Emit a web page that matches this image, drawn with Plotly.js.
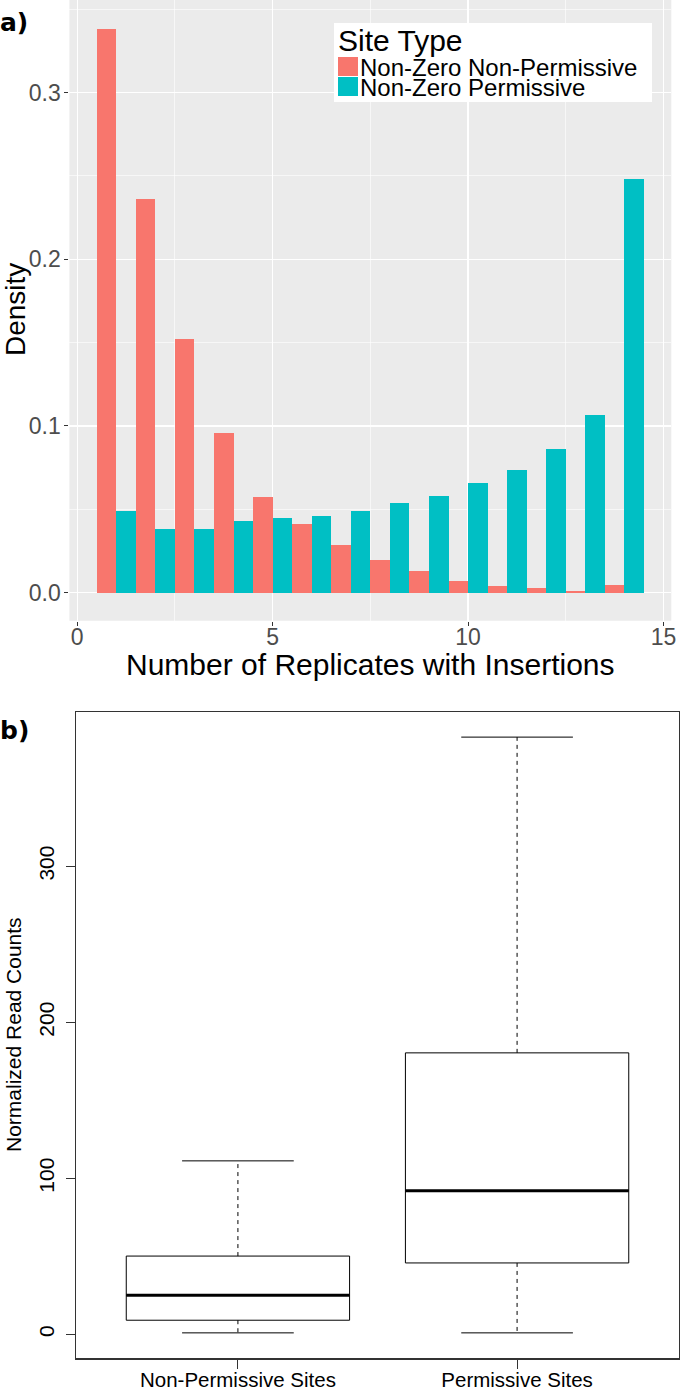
<!DOCTYPE html>
<html>
<head>
<meta charset="utf-8">
<script src="https://cdn.plot.ly/plotly-3.0.1.min.js"></script>
<style>html,body{margin:0;padding:0;background:#fff;}#chart{width:680px;height:1391px;}</style>
</head>
<body>
<div id="chart"></div>
<script>
// ---- Panel a) data: density of replicates with insertions ----
const replicates = [1, 2, 3, 4, 5, 6, 7, 8, 9, 10, 11, 12, 13, 14];
const nonZeroNonPermissive = [0.338, 0.236, 0.152, 0.096, 0.0576, 0.0412, 0.0286, 0.0198, 0.013, 0.0068, 0.004, 0.003, 0.0012, 0.0044];
const nonZeroPermissive = [0.0488, 0.0384, 0.0384, 0.0432, 0.0446, 0.0462, 0.0492, 0.0538, 0.0582, 0.0656, 0.0734, 0.0864, 0.1068, 0.248];
const seriesNames = ['Non-Zero Non-Permissive', 'Non-Zero Permissive'];
const legendTitle = 'Site Type';
const xTicksA = [0, 5, 10, 15];
const yTicksA = [0, 0.1, 0.2, 0.3];

// ---- Panel b) data: boxplot statistics of normalized read counts ----
const siteGroups = ['Non-Permissive Sites', 'Permissive Sites'];
const lowerWhisker = [1, 1];
const q1 = [9.1, 45.8];
const median = [25.1, 92.1];
const q3 = [50.2, 180.4];
const upperWhisker = [111.2, 382.7];
const yTicksB = [0, 100, 200, 300];

const RED = '#F8766D', TEAL = '#00BFC4';
const FONT = 'Liberation Sans, Arial, sans-serif';
const W = 680, H = 1391;
const px = x => x / W;
const py = y => 1 - y / H;

const groupPos = siteGroups.map((_, i) => i + 1);
const boxHalf = 0.4, capHalf = 0.2;

const traces = [
  {type: 'bar', x: replicates, y: nonZeroNonPermissive, name: seriesNames[0], marker: {color: RED, line: {width: 0}}, xaxis: 'x', yaxis: 'y', showlegend: false},
  {type: 'bar', x: replicates, y: nonZeroPermissive, name: seriesNames[1], marker: {color: TEAL, line: {width: 0}}, xaxis: 'x', yaxis: 'y', showlegend: false},
  {type: 'box', x: groupPos, q1: q1, median: median, q3: q3, lowerfence: q1, upperfence: q3,
   width: 2 * boxHalf, whiskerwidth: 0, boxpoints: false, fillcolor: '#ffffff',
   line: {color: '#000000', width: 1}, xaxis: 'x2', yaxis: 'y2', showlegend: false, hoverinfo: 'skip'}
];

// medians (thick), whiskers (dashed), caps
const medX = [], medY = [], whX = [], whY = [], capX = [], capY = [];
groupPos.forEach((p, i) => {
  medX.push(p - boxHalf, p + boxHalf, null); medY.push(median[i], median[i], null);
  whX.push(p, p, null, p, p, null); whY.push(q3[i], upperWhisker[i], null, q1[i], lowerWhisker[i], null);
  capX.push(p - capHalf, p + capHalf, null, p - capHalf, p + capHalf, null);
  capY.push(upperWhisker[i], upperWhisker[i], null, lowerWhisker[i], lowerWhisker[i], null);
});
traces.push({type: 'scatter', mode: 'lines', x: whX, y: whY, line: {color: '#000', width: 1, dash: '4px,4px'}, xaxis: 'x2', yaxis: 'y2', showlegend: false, hoverinfo: 'skip'});
traces.push({type: 'scatter', mode: 'lines', x: capX, y: capY, line: {color: '#000', width: 1}, xaxis: 'x2', yaxis: 'y2', showlegend: false, hoverinfo: 'skip'});
traces.push({type: 'scatter', mode: 'lines', x: medX, y: medY, line: {color: '#000', width: 3}, xaxis: 'x2', yaxis: 'y2', showlegend: false, hoverinfo: 'skip'});

const layout = {
  width: W, height: H,
  margin: {l: 0, r: 0, t: 0, b: 0},
  paper_bgcolor: '#ffffff', plot_bgcolor: 'rgba(0,0,0,0)',
  barmode: 'group', bargap: 0, bargroupgap: 0,
  showlegend: false,
  font: {family: FONT, color: '#000'},
  xaxis: {
    domain: [px(69.4), px(671.3)], anchor: 'y', range: [-0.2, 15.2],
    tickvals: xTicksA, ticks: 'outside', ticklen: 4, tickcolor: '#333333', tickwidth: 1,
    tickfont: {family: FONT, size: 23, color: '#4D4D4D'}, ticklabelstandoff: -8,
    showgrid: true, gridcolor: '#ffffff', gridwidth: 1.3, zeroline: false, showline: false,
    minor: {dtick: 2.5, tick0: 0, showgrid: true, gridcolor: '#ffffff', gridwidth: 0.6, ticks: ''}
  },
  yaxis: {
    domain: [py(620.8), 1], anchor: 'x', range: [-0.0169, 0.3555],
    tickvals: yTicksA, ticktext: yTicksA.map(v => v.toFixed(1)),
    ticks: 'outside', ticklen: 4, tickcolor: '#333333', tickwidth: 1,
    tickfont: {family: FONT, size: 23, color: '#4D4D4D'}, ticklabelstandoff: -1,
    showgrid: true, gridcolor: '#ffffff', gridwidth: 1.3, zeroline: false, showline: false,
    minor: {dtick: 0.05, tick0: 0, showgrid: true, gridcolor: '#ffffff', gridwidth: 0.6, ticks: ''}
  },
  xaxis2: {
    domain: [px(76), px(679)], anchor: 'y2', range: [0.42, 2.58],
    tickvals: groupPos, ticktext: siteGroups, ticks: 'outside', ticklen: 9, tickcolor: '#333', tickwidth: 1,
    tickfont: {family: FONT, size: 20.5, color: '#000'}, ticklabelstandoff: -6,
    showgrid: false, zeroline: false, showline: true, mirror: true, linecolor: '#333', linewidth: 1.2
  },
  yaxis2: {
    domain: [py(1358.3), py(712.3)], anchor: 'x2', range: [-15.3, 398.6],
    tickvals: yTicksB, tickangle: -90, ticks: 'outside', ticklen: 9, tickcolor: '#333', tickwidth: 1,
    tickfont: {family: FONT, size: 21, color: '#000'}, ticklabelstandoff: 3,
    showgrid: false, zeroline: false, showline: true, mirror: true, linecolor: '#333', linewidth: 1.2
  },
  shapes: [
    {type: 'rect', xref: 'x domain', yref: 'y domain', x0: 0, x1: 1, y0: 0, y1: 1, fillcolor: '#EBEBEB', line: {width: 0}, layer: 'below'},
    {type: 'rect', xref: 'paper', yref: 'paper', x0: px(334), x1: px(652), y0: py(102), y1: py(23), fillcolor: '#ffffff', line: {width: 0}, layer: 'above'},
    {type: 'rect', xref: 'paper', yref: 'paper', x0: px(338), x1: px(358), y0: py(76), y1: py(57), fillcolor: RED, line: {width: 0}, layer: 'above'},
    {type: 'rect', xref: 'paper', yref: 'paper', x0: px(338), x1: px(358), y0: py(96), y1: py(77), fillcolor: TEAL, line: {width: 0}, layer: 'above'}
  ],
  annotations: [
    {text: '<b>a)</b>', xref: 'paper', yref: 'paper', x: px(-2), y: py(22), xanchor: 'left', yanchor: 'middle', showarrow: false, font: {family: 'DejaVu Sans, sans-serif', size: 25, color: '#000'}},
    {text: '<b>b)</b>', xref: 'paper', yref: 'paper', x: px(-2), y: py(730), xanchor: 'left', yanchor: 'middle', showarrow: false, font: {family: 'DejaVu Sans, sans-serif', size: 25, color: '#000'}},
    {text: 'Density', xref: 'paper', yref: 'paper', x: px(15), y: py(310), xanchor: 'center', yanchor: 'middle', textangle: -90, showarrow: false, font: {family: FONT, size: 28, color: '#000'}},
    {text: 'Number of Replicates with Insertions', xref: 'paper', yref: 'paper', x: px(371), y: py(664), xanchor: 'center', yanchor: 'middle', showarrow: false, font: {family: FONT, size: 30, color: '#000'}},
    {text: legendTitle, xref: 'paper', yref: 'paper', x: px(336), y: py(40), xanchor: 'left', yanchor: 'middle', showarrow: false, font: {family: FONT, size: 30, color: '#000'}},
    {text: seriesNames[0], xref: 'paper', yref: 'paper', x: px(358), y: py(67), xanchor: 'left', yanchor: 'middle', showarrow: false, font: {family: FONT, size: 24, color: '#000'}},
    {text: seriesNames[1], xref: 'paper', yref: 'paper', x: px(358), y: py(87), xanchor: 'left', yanchor: 'middle', showarrow: false, font: {family: FONT, size: 24, color: '#000'}},
    {text: 'Normalized Read Counts', xref: 'paper', yref: 'paper', x: px(13), y: py(1035), xanchor: 'center', yanchor: 'middle', textangle: -90, showarrow: false, font: {family: FONT, size: 21, color: '#000'}}
  ]
};

Plotly.newPlot('chart', traces, layout, {staticPlot: true, displayModeBar: false});
</script>
</body>
</html>
